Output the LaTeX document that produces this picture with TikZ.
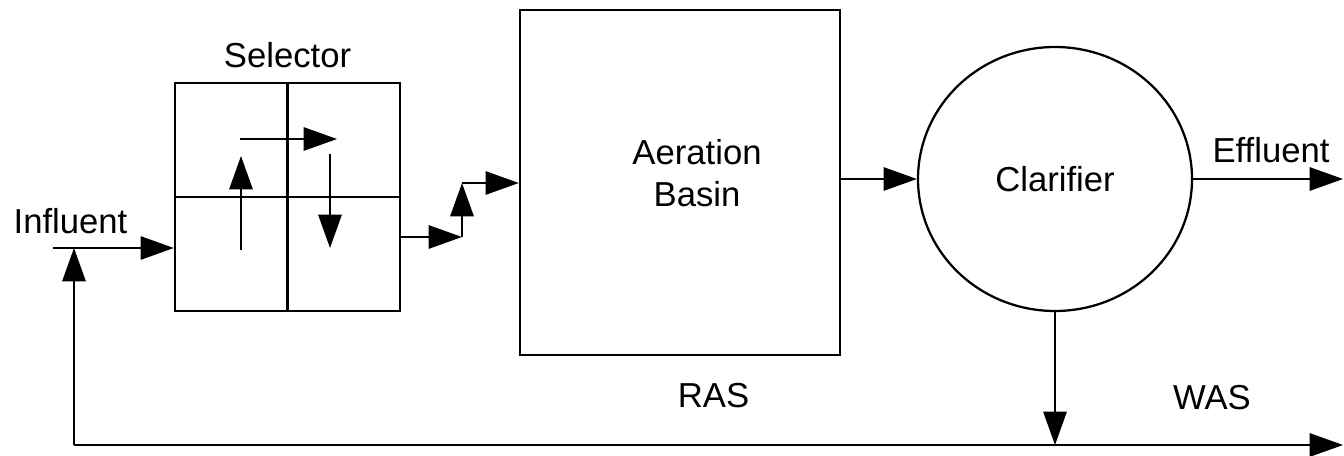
\documentclass[tikz,border=0pt]{standalone}
\usepackage{fontspec}
\setmainfont{Liberation Sans}
\usetikzlibrary{arrows.meta,shapes.geometric}
\begin{document}
\begin{tikzpicture}[x=0.75pt,y=-0.75pt,
  txt/.style={font=\fontsize{26}{31}\selectfont, inner sep=0pt},
  unit/.style={draw, line width=1.7pt, inner sep=0pt},
  flow/.style={line width=1.4pt, -{Triangle[length=25pt,width=17.5pt]}},
  divider/.style={line width=1.6pt},
]
\useasboundingbox (0,0) rectangle (1344,456);
% units
\node[unit, minimum width=168.75pt, minimum height=171pt] (sel) at (287.5,197) {};
\node[unit, minimum width=240pt, minimum height=258.75pt] (aer) at (680,182.5) {};
\node[unit, ellipse, minimum width=205.5pt, minimum height=198pt, font=\fontsize{26}{31}\selectfont] (clar) at (1055,179) {Clarifier};
% selector dividers
\draw[divider] (sel.north) -- (sel.south);
\draw[divider] (sel.west) -- (sel.east);
% labels
\node[txt, anchor=base] (tsel) at (287.5,68) {Selector};
\node[txt, anchor=base] (tinf) at (70.5,233) {Influent};
\node[txt, anchor=base] (ta1) at (697,164) {Aeration};
\node[txt, anchor=base] (ta2) at (697,206) {Basin};
\node[txt, anchor=base] (teff) at (1271,162) {Effluent};
\node[txt, anchor=base] (tras) at (713.5,407) {RAS};
\node[txt, anchor=base] (twas) at (1212,409) {WAS};
% coordinates
\coordinate (infS) at (53,248);
\coordinate (ret) at (74,445);
\coordinate (wasE) at (1343,445);
\coordinate (effE) at (1343,179);
\coordinate (u1) at (241,250);
\coordinate (u2) at (241,156);
\coordinate (r1) at (240,139);
\coordinate (r2) at (337,139);
\coordinate (d1) at (330,154);
\coordinate (d2) at (330,248);
\coordinate (j1) at (462,237);
\coordinate (j2) at (462,183);
% flows
\draw[flow] (infS) -- (sel.west |- infS);
\draw[flow] (ret) -- (ret |- infS);
\draw[flow] (ret) -- (wasE);
\draw[flow] (clar.south) -- (clar.south |- ret);
\draw[flow] (u1) -- (u2);
\draw[flow] (r1) -- (r2);
\draw[flow] (d1) -- (d2);
\draw[flow] (sel.east |- j1) -- (j1);
\draw[flow] (j1) -- (j2);
\draw[flow] (j2) -- (aer.west |- j2);
\draw[flow] (aer.east |- clar.west) -- (clar.west);
\draw[flow] (clar.east) -- (effE);
\end{tikzpicture}
\end{document}
